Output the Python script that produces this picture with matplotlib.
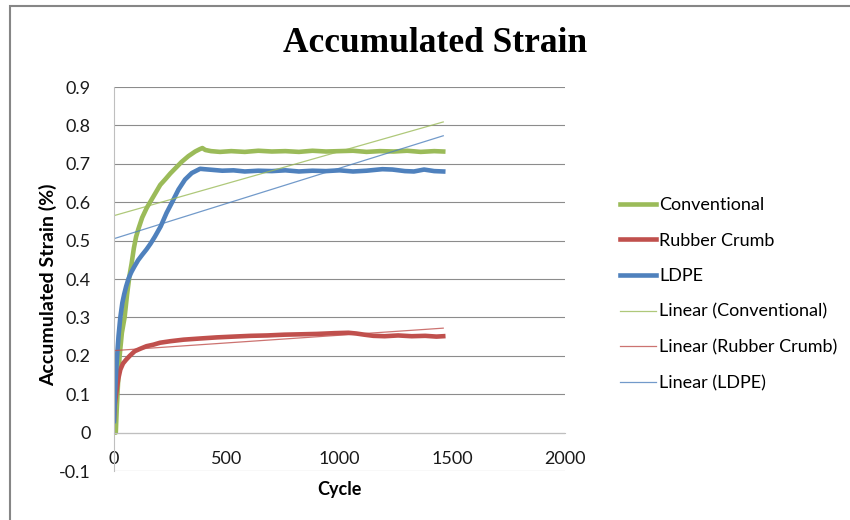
import numpy as np
import matplotlib
matplotlib.use("Agg")
import matplotlib.pyplot as plt
from matplotlib.patches import Rectangle

# ---- data ----
conv_cycle = [0, 8, 12, 18, 25, 35, 47, 58, 69, 78, 88, 98, 108, 125, 145, 160,
              180, 205, 228, 250, 275, 300, 330, 360, 380, 392, 405, 430, 470,
              520, 580, 640, 700, 760, 820, 880, 940, 1000, 1060, 1120, 1180,
              1240, 1300, 1360, 1420, 1460]
conv_strain = [0.0, 0.0, 0.06, 0.13, 0.20, 0.26, 0.30, 0.36, 0.41, 0.44, 0.48,
               0.51, 0.53, 0.56, 0.585, 0.60, 0.62, 0.645, 0.66, 0.675, 0.69,
               0.705, 0.72, 0.732, 0.738, 0.741, 0.736, 0.733, 0.731, 0.733,
               0.731, 0.734, 0.732, 0.733, 0.731, 0.734, 0.732, 0.733, 0.734,
               0.731, 0.733, 0.732, 0.734, 0.731, 0.733, 0.732]

rubber_cycle = [0, 3, 7, 12, 19, 28, 40, 54, 70, 92, 115, 144, 175, 204, 250,
                308, 380, 457, 530, 606, 680, 755, 830, 900, 979, 1040, 1075,
                1110, 1150, 1200, 1260, 1320, 1380, 1430, 1460]
rubber_strain = [0.035, 0.07, 0.09, 0.112, 0.14, 0.164, 0.18, 0.19, 0.20,
                 0.212, 0.218, 0.225, 0.229, 0.234, 0.238, 0.242, 0.245, 0.248,
                 0.250, 0.252, 0.253, 0.255, 0.256, 0.257, 0.259, 0.260, 0.258,
                 0.255, 0.252, 0.251, 0.253, 0.251, 0.252, 0.250, 0.251]

ldpe_cycle = [0, 2, 5, 10, 15, 20, 28, 37, 45, 54, 65, 77, 90, 107, 125, 144,
              162, 181, 207, 233, 256, 286, 315, 345, 382, 400, 440, 480, 530,
              580, 640, 700, 760, 820, 880, 940, 1000, 1060, 1120, 1190, 1235,
              1290, 1330, 1375, 1420, 1460]
ldpe_strain = [0.03, 0.07, 0.11, 0.164, 0.21, 0.251, 0.30, 0.338, 0.36, 0.381,
               0.402, 0.418, 0.432, 0.449, 0.463, 0.477, 0.492, 0.510, 0.537,
               0.572, 0.598, 0.633, 0.659, 0.676, 0.687, 0.686, 0.684, 0.682,
               0.683, 0.680, 0.682, 0.681, 0.683, 0.680, 0.682, 0.681, 0.683,
               0.680, 0.682, 0.686, 0.685, 0.681, 0.680, 0.685, 0.681, 0.680]

# linear trend lines (value at first and last cycle)
trend_cycle = [0, 1460]
conv_trend = [0.565, 0.809]
rubber_trend = [0.2135, 0.272]
ldpe_trend = [0.505, 0.773]

GREEN = '#9BBB59'
RED = '#C0504D'
BLUE = '#4F81BD'

plt.rcParams['font.family'] = ['Lato', 'DejaVu Sans']

W, H = 850, 520
fig = plt.figure(figsize=(W / 100, H / 100), dpi=100)

# outer chart border (runs off the right/bottom of the crop)
fig.patches.append(Rectangle((9.5 / W, -0.05), 1.1, 1 - 6 / H + 0.05,
                             transform=fig.transFigure, fill=False,
                             edgecolor='#868686', linewidth=1.5))

ax = fig.add_axes([114 / W, 1 - 471 / H, (565 - 114) / W, (471 - 87) / H])

ax.plot(conv_cycle, conv_strain, color=GREEN, linewidth=3.3, label='Conventional')
ax.plot(rubber_cycle, rubber_strain, color=RED, linewidth=3.3, label='Rubber Crumb')
ax.plot(ldpe_cycle, ldpe_strain, color=BLUE, linewidth=3.3, label='LDPE')
ax.plot(trend_cycle, conv_trend, color=GREEN, linewidth=0.9, alpha=0.8,
        label='Linear (Conventional)')
ax.plot(trend_cycle, rubber_trend, color=RED, linewidth=0.9, alpha=0.8,
        label='Linear (Rubber Crumb)')
ax.plot(trend_cycle, ldpe_trend, color=BLUE, linewidth=0.9, alpha=0.8,
        label='Linear (LDPE)')

ax.set_xlim(0, 2000)
ax.set_ylim(-0.1, 0.9)
ax.set_xticks([0, 500, 1000, 1500, 2000])
ax.set_yticks(np.arange(-0.1, 0.91, 0.1))
ax.set_yticklabels(['-0.1', '0', '0.1', '0.2', '0.3', '0.4', '0.5', '0.6',
                    '0.7', '0.8', '0.9'])
ax.tick_params(axis='both', length=0, labelsize=13, colors='#1a1a1a')
ax.tick_params(axis='y', pad=17)
ax.tick_params(axis='x', pad=13)

ax.grid(axis='y', color='#8c8c8c', linewidth=0.8, zorder=0)
ax.set_axisbelow(True)
for s in ['top', 'right']:
    ax.spines[s].set_visible(False)
ax.spines['bottom'].set_position(('data', 0))
ax.spines['bottom'].set_color('#bfbfbf')
ax.spines['left'].set_color('#bfbfbf')

fig.text(48 / W, 1 - 285 / H, 'Accumulated Strain (%)', rotation=90,
         ha='center', va='center', fontsize=14, fontweight='bold')
fig.text(339 / W, 1 - 489 / H, 'Cycle', ha='center', va='center',
         fontsize=13, fontweight='bold')
fig.text(435 / W, 1 - 43 / H, 'Accumulated Strain', ha='center', va='center',
         fontsize=25.5, fontweight='bold', family='Liberation Serif')

fig.legend(loc='upper left', bbox_to_anchor=(613 / W, 1 - 190 / H),
           frameon=False, fontsize=13, handlelength=2.0, handletextpad=0.15,
           labelspacing=1.08, borderaxespad=0)

fig.savefig('out.png', dpi=100)
